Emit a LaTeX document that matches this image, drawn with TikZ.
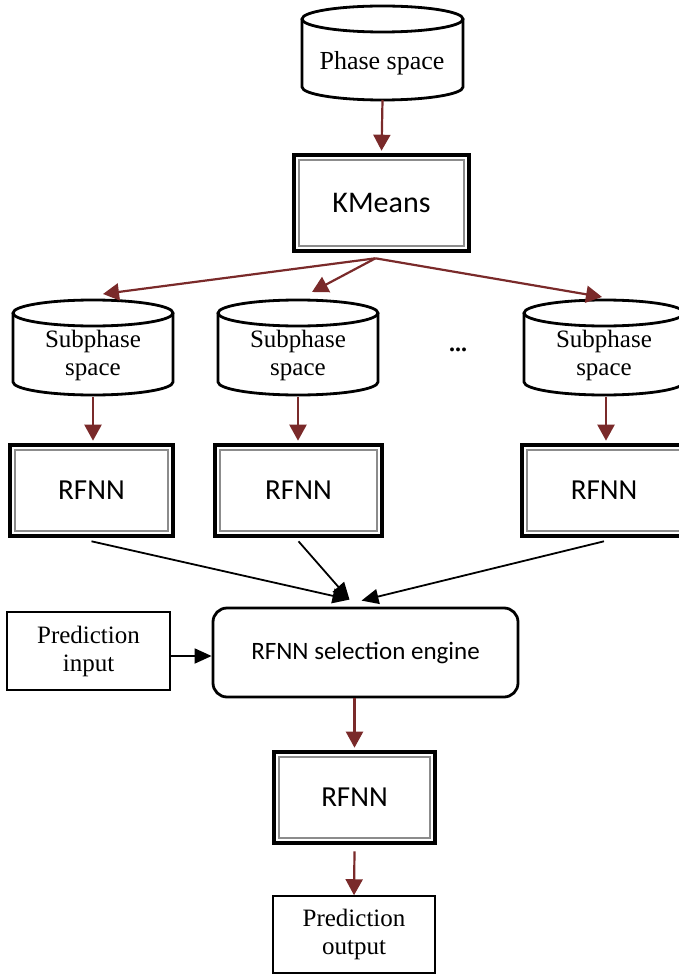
\documentclass[tikz,border=0pt]{standalone}
\usepackage{fontspec}
\setmainfont{Liberation Serif}
\newfontfamily\calib{Carlito}
\usetikzlibrary{arrows.meta,calc}
\definecolor{flowred}{RGB}{122,42,42}
\definecolor{rimgray}{RGB}{140,140,140}

% outline of a data-store drum around an (invisible) body node
\newcommand\drumoutline[3]{% node, x radius, y radius
  \draw[drumline] ($(#1.north)+(0,-#3)$) ellipse [x radius=#2, y radius=#3];
  \draw[drumline] ($(#1.north west)+(0,-#3)$) -- ($(#1.south west)+(0,#3)$)
     arc[start angle=180, end angle=360, x radius=#2, y radius=#3]
     -- ($(#1.north east)+(0,-#3)$);
}

\begin{document}
\begin{tikzpicture}[x=1pt,y=-1pt,
  drumline/.style={draw=black,line width=2.8pt},
  drumbody/.style={inner sep=0pt,outer sep=0pt,minimum height=95pt},
  stext/.style={font=\fontsize{25}{28}\selectfont,align=center,inner sep=0pt},
  model/.style={draw=black,line width=4.6pt,minimum height=91pt,inner sep=0pt,
    font=\calib\fontsize{29}{30}\selectfont,
    path picture={\draw[rimgray,line width=1.6pt]
      ([xshift=5pt,yshift=-5pt]path picture bounding box.north west) rectangle
      ([xshift=-5pt,yshift=5pt]path picture bounding box.south east);}},
  plainbox/.style={draw=black,line width=1.5pt,align=center,inner sep=0pt,
    font=\fontsize{25}{28}\selectfont},
  engine/.style={draw=black,line width=2.8pt,rounded corners=14pt,inner sep=0pt,
    font=\calib\fontsize{25}{28}\selectfont},
  redarrow/.style={draw=flowred,line width=2.2pt,-{Triangle[width=17pt,length=16pt]}},
  blackarrow/.style={draw=black,line width=1.8pt,-{Triangle[width=15pt,length=17pt]}}
]
\useasboundingbox (0,0) rectangle (679,976);

% source data
\node[drumbody,minimum width=161pt,minimum height=94pt] (ps) at (382.5,53) {};
\drumoutline{ps}{80.5pt}{13pt}
\node[stext,font=\fontsize{26}{28}\selectfont] (pst) at (382,63) {Phase space};

% clustering
\node[model,minimum width=175pt,minimum height=96pt,font=\calib\fontsize{30}{30}\selectfont]
  (km) at (381.5,203) {KMeans};

% sub-spaces
\node[drumbody,minimum width=160pt] (s1) at (93,347.5) {};
\drumoutline{s1}{80pt}{13pt}
\node[stext] (s1t) at (93,355) {Subphase\\space};

\node[drumbody,minimum width=160pt] (s2) at (298,347.5) {};
\drumoutline{s2}{80pt}{13pt}
\node[stext] (s2t) at (298,355) {Subphase\\space};

\node[stext,font=\bfseries\fontsize{24}{24}\selectfont] (dots) at (458,350) {...};

\node[drumbody,minimum width=160pt] (s3) at (604,347.5) {};
\drumoutline{s3}{80pt}{13pt}
\node[stext] (s3t) at (604,355) {Subphase\\space};

% local models
\node[model,minimum width=163pt] (r1) at (91.5,490.5) {RFNN};
\node[model,minimum width=167pt] (r2) at (298.5,490.5) {RFNN};
\node[model,minimum width=164pt] (r3) at (604,490.5) {RFNN};

% selection stage
\node[engine,minimum width=305pt,minimum height=89pt] (eng) at (365.5,652.5) {RFNN selection engine};
\node[plainbox,minimum width=163pt,minimum height=78pt] (pin) at (88.5,651) {Prediction\\input};

\node[model,minimum width=161pt] (rf) at (354.5,797.5) {RFNN};
\node[plainbox,minimum width=162pt,minimum height=77pt] (pout) at (354,934.5) {Prediction\\output};

% connectors
\draw[redarrow,shorten >=2pt] (ps.south) -- (km.north);
\draw[redarrow] ([xshift=-6pt,yshift=-5pt]km.south) -- ([xshift=10pt,yshift=6pt]s1.north);
\draw[redarrow] ([xshift=-6pt,yshift=-5pt]km.south) -- ([xshift=14pt,yshift=8pt]s2.north);
\draw[redarrow] ([xshift=-6pt,yshift=-5pt]km.south) -- ([xshift=-2pt,yshift=3pt]s3.north);

\draw[redarrow,shorten >=2pt] ([yshift=-2pt]s1.south) -- (s1.south |- r1.north);
\draw[redarrow,shorten >=2pt] ([yshift=-2pt]s2.south) -- (s2.south |- r2.north);
\draw[redarrow,shorten >=2pt] ([xshift=2pt,yshift=-2pt]s3.south) -- ([xshift=2pt]s3.south |- r3.north);

\draw[blackarrow] ([yshift=-3pt]r1.south) -- ([xshift=-16pt,yshift=7pt]eng.north);
\draw[blackarrow] ([yshift=-3pt]r2.south) -- ([xshift=-16pt,yshift=7pt]eng.north);
\draw[blackarrow] ([yshift=-3pt]r3.south) -- ([xshift=-4pt,yshift=6pt]eng.north);

\draw[blackarrow] ([yshift=-5pt]pin.east) -- ([yshift=-5pt]pin.east -| eng.west);

\draw[redarrow,shorten >=2pt] (rf.north |- eng.south) -- (rf.north);
\draw[redarrow] ([yshift=-6pt]rf.south) -- (pout.north);
\end{tikzpicture}
\end{document}
